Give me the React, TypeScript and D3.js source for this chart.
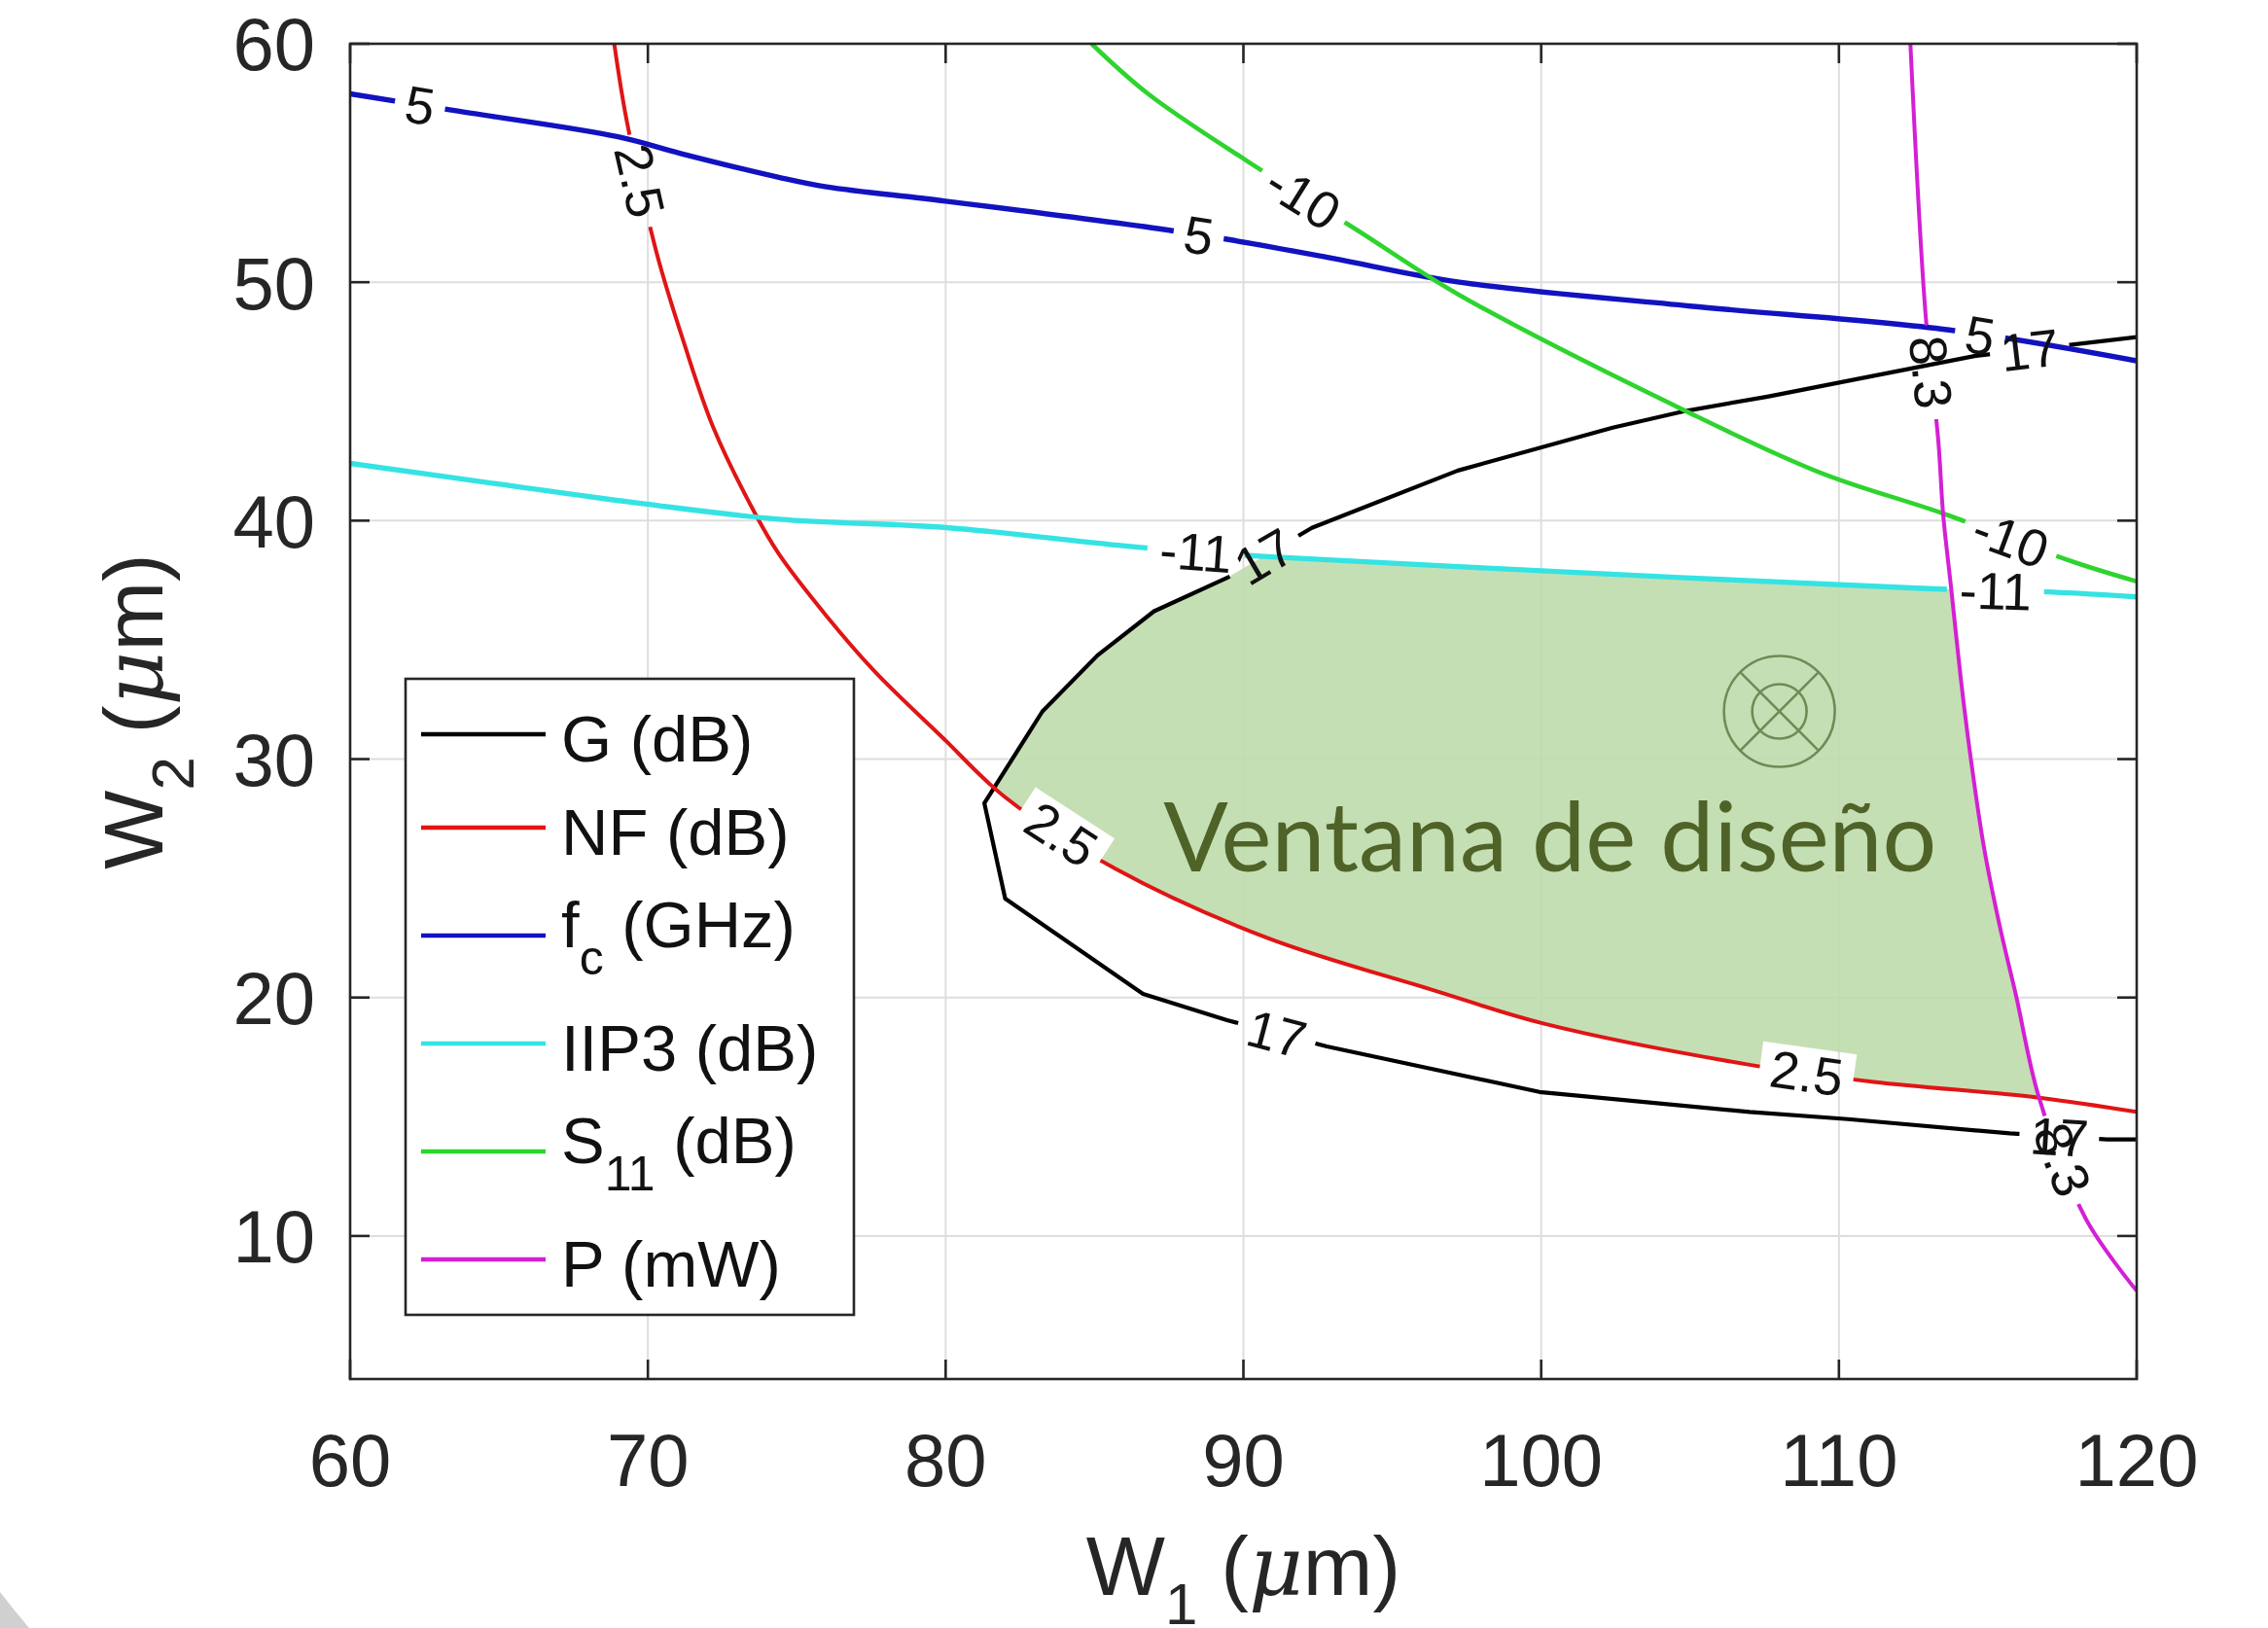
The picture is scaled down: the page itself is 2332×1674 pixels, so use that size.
import React from 'react';
import * as d3 from 'd3';

type Pt = [number, number];

const WIDTH = 2332;
const HEIGHT = 1674;

const X_DOMAIN: Pt = [60, 120];
const Y_DOMAIN: Pt = [4, 60];
const X_TICKS = [60, 70, 80, 90, 100, 110, 120];
const Y_TICKS = [10, 20, 30, 40, 50, 60];

// G = 17 dB contour (black)
const G_POINTS: Pt[] = [
  [120, 47.7], [114.55, 46.9], [110.05, 45.8], [107.6, 45.2], [104.85, 44.6], [102.4, 43.9],
  [97.2, 42.1], [92.3, 39.7], [89.45, 37.6], [87.0, 36.2], [85.1, 34.35], [83.25, 32.0],
  [81.76, 29.06], [81.3, 28.15], [82.0, 24.15], [86.63, 20.15], [89.45, 19.05], [92.8, 17.95],
  [99.94, 16.04], [107.0, 15.2], [110.3, 14.9], [115.74, 14.3], [119.0, 14.05], [120, 14.05],
];
const G_LABELS: Pt[] = [[90.7, 38.5], [91.1, 18.4], [116.4, 47.2], [117.4, 14.2]];

// NF = 2.5 dB contour (red)
const NF_POINTS: Pt[] = [
  [68.87, 60], [69.3, 56.7], [70.3, 51.2], [71.2, 47.5], [72.2, 43.9], [73.6, 40.3], [74.4, 38.6],
  [76.0, 36.0], [77.6, 33.7], [79.9, 30.9], [82.0, 28.4], [85.7, 25.4], [90.8, 22.5], [96.4, 20.3],
  [100.1, 18.9], [106.9, 17.2], [111.17, 16.46], [116.72, 15.8], [120, 15.2],
];
const NF_LABELS: Pt[] = [[69.2, 54.1], [83.7, 26.5], [108.9, 16.7]];

// fc = 5 GHz contour (blue)
const FC_POINTS: Pt[] = [
  [60, 57.9], [63.5, 57.2], [69, 56.1], [71.1, 55.4], [74.4, 54.4], [76, 54.0], [80, 53.4],
  [87.4, 52.2], [89.7, 51.75], [93, 51.0], [97.25, 50.0], [105, 49.0], [113.7, 48.0], [120, 46.7],
];
const FC_LABELS: Pt[] = [[62.33, 57.3], [88.5, 52.0], [114.7, 47.5]];

// IIP3 = -11 dB contour (cyan)
const IIP3_POINTS: Pt[] = [
  [60, 42.4], [64.9, 41.55], [69.9, 40.7], [74.4, 40.06], [80.1, 39.7], [86.35, 38.9],
  [90.7, 38.5], [97.2, 38.07], [112.8, 37.16], [117.2, 37.0], [120, 36.8],
];
const IIP3_LABELS: Pt[] = [[88.4, 38.6], [115.25, 36.8]];

// S11 = -10 dB contour (green)
const S11_POINTS: Pt[] = [
  [84.9, 60], [86.8, 57.9], [90.1, 55.1], [93.8, 52.2], [97.2, 49.5], [104.85, 44.6],
  [109.4, 42.0], [113.5, 40.3], [117.8, 38.3], [120, 37.45],
];
const S11_LABELS: Pt[] = [[91.84, 53.25], [115.7, 39.0]];

// P = 8.3 mW contour (magenta)
const P_POINTS: Pt[] = [
  [112.4, 60], [112.9, 48.8], [113.34, 43.3], [113.5, 40.26], [113.78, 37.04], [114.1, 33.3],
  [114.43, 30.0], [114.87, 26.3], [115.4, 23.0], [115.95, 20.07], [116.72, 15.8], [118.3, 10.7],
  [120, 7.7],
];
const P_LABELS: Pt[] = [[112.9, 46.2], [117.3, 13.1]];

const TARGET_POINT: Pt = [108, 32];
const WINDOW_TEXT_POS: Pt = [100.3, 25.3];
const WINDOW_TEXT = 'Ventana de diseño';

const LEGEND_ITEMS = [
  { main: 'G', sub: '', rest: ' (dB)', color: '#000000' },
  { main: 'NF (dB)', sub: '', rest: '', color: '#e01515' },
  { main: 'f', sub: 'c', rest: ' (GHz)', color: '#1212c0' },
  { main: 'IIP3 (dB)', sub: '', rest: '', color: '#35e3e3' },
  { main: 'S', sub: '11', rest: ' (dB)', color: '#2ed42e' },
  { main: 'P (mW)', sub: '', rest: '', color: '#d41fd4' },
];

const FONT = '"Liberation Sans", Arial, Helvetica, sans-serif';

const M = { left: 360, right: 2197, top: 45, bottom: 1418 };

const x = d3.scaleLinear().domain(X_DOMAIN).range([M.left, M.right]);
const y = d3.scaleLinear().domain(Y_DOMAIN).range([M.bottom, M.top]);

const SERIES = [
  { id: 'g', level: '17', pts: G_POINTS, labels: G_LABELS, color: '#000000', w: 4.2, smooth: false },
  { id: 'nf', level: '2.5', pts: NF_POINTS, labels: NF_LABELS, color: '#e01515', w: 4.0, smooth: true },
  { id: 'fc', level: '5', pts: FC_POINTS, labels: FC_LABELS, color: '#1212c0', w: 5.4, smooth: true },
  { id: 'iip3', level: '-11', pts: IIP3_POINTS, labels: IIP3_LABELS, color: '#35e3e3', w: 5.4, smooth: true },
  { id: 's11', level: '-10', pts: S11_POINTS, labels: S11_LABELS, color: '#2ed42e', w: 4.6, smooth: true },
  { id: 'p', level: '8.3', pts: P_POINTS, labels: P_LABELS, color: '#d41fd4', w: 4.0, smooth: true },
];

const LABEL_FS = 54;

function textW(s: string, fs: number) {
  let w = 0;
  for (const c of s) w += c === '.' ? 0.278 : c === '-' ? 0.333 : 0.556;
  return w * fs;
}

function lineGen(smooth: boolean) {
  return d3
    .line<Pt>()
    .x((d) => x(d[0]))
    .y((d) => y(d[1]))
    .curve(smooth ? d3.curveCatmullRom.alpha(0.5) : d3.curveLinear);
}

function placeLabel(pts: Pt[], q: Pt) {
  const sp = pts.map((p) => [x(p[0]), y(p[1])]);
  const qx = x(q[0]);
  const qy = y(q[1]);
  let best = { d: Infinity, px: qx, py: qy, a: 0 };
  for (let i = 0; i < sp.length - 1; i++) {
    const [x0, y0] = sp[i];
    const [x1, y1] = sp[i + 1];
    const dx = x1 - x0;
    const dy = y1 - y0;
    const L2 = dx * dx + dy * dy;
    let t = ((qx - x0) * dx + (qy - y0) * dy) / L2;
    t = Math.max(0, Math.min(1, t));
    const px = x0 + t * dx;
    const py = y0 + t * dy;
    const d = Math.hypot(px - qx, py - qy);
    if (d < best.d) {
      let a = (Math.atan2(dy, dx) * 180) / Math.PI;
      if (a > 90) a -= 180;
      if (a <= -90) a += 180;
      best = { d, px, py, a };
    }
  }
  return best;
}

function closedPath(pts: Pt[], extra: Pt[], smooth: boolean) {
  const base = lineGen(smooth)(pts) || '';
  return base + extra.map((p) => `L${x(p[0])},${y(p[1])}`).join('') + 'Z';
}

export default function App() {
  const placed = SERIES.map((s) => ({
    ...s,
    lab: s.labels.map((q) => placeLabel(s.pts, q)),
  }));

  const nf = placed.find((s) => s.id === 'nf')!;

  const tx = x(TARGET_POINT[0]);
  const ty = y(TARGET_POINT[1]);
  const rOut = 57;
  const rIn = 28;
  const dq = rOut * Math.SQRT1_2;

  const legendTop = 698;
  const legendLeft = 417;
  const legendRight = 878;
  const rowH = (it: { sub: string }) => (it.sub ? 126 : 96);
  let acc = legendTop + 9;
  const rows = LEGEND_ITEMS.map((it) => {
    const c = acc + rowH(it) / 2;
    acc += rowH(it);
    return { ...it, cy: c };
  });
  const legendBottom = acc + 9;

  return (
    <svg
      width={WIDTH}
      height={HEIGHT}
      viewBox={`0 0 ${WIDTH} ${HEIGHT}`}
      style={{ position: 'absolute', left: 0, top: 0, background: '#ffffff' }}
    >
      <defs>
        <clipPath id="plotClip">
          <rect x={M.left} y={M.top} width={M.right - M.left} height={M.bottom - M.top} />
        </clipPath>
        <clipPath id="belowCyan">
          <path d={closedPath(IIP3_POINTS, [[120, 4], [60, 4]], true)} />
        </clipPath>
        <clipPath id="aboveRed">
          <path d={closedPath(NF_POINTS, [[120, 60]], true)} />
        </clipPath>
        <clipPath id="leftMag">
          <path d={closedPath(P_POINTS, [[120, 4], [60, 4], [60, 60]], true)} />
        </clipPath>
        <clipPath id="inBlack">
          <path d={closedPath(G_POINTS, [], false)} />
        </clipPath>
        {placed.map((s) => (
          <mask key={s.id} id={`mask-${s.id}`} maskUnits="userSpaceOnUse" x={0} y={0} width={WIDTH} height={HEIGHT}>
            <rect x={0} y={0} width={WIDTH} height={HEIGHT} fill="white" />
            {s.lab.map((l, i) => {
              const w = textW(s.level, LABEL_FS) + 22;
              const h = LABEL_FS * 0.95;
              return (
                <rect
                  key={i}
                  x={-w / 2}
                  y={-h / 2}
                  width={w}
                  height={h}
                  fill="black"
                  transform={`translate(${l.px},${l.py}) rotate(${l.a})`}
                />
              );
            })}
          </mask>
        ))}
      </defs>

      {/* decorative gray corner */}
      <path d="M0,1637 A1165,1165 0 0 0 30,1674 L0,1674 Z" fill="#d0d0d0" />

      {/* grid */}
      <g stroke="#dedede" strokeWidth={2}>
        {X_TICKS.slice(1, -1).map((t) => (
          <line key={`gx${t}`} x1={x(t)} x2={x(t)} y1={M.top} y2={M.bottom} />
        ))}
        {Y_TICKS.slice(0, -1).map((t) => (
          <line key={`gy${t}`} x1={M.left} x2={M.right} y1={y(t)} y2={y(t)} />
        ))}
      </g>

      {/* design window fill */}
      <g clipPath="url(#plotClip)">
        <g clipPath="url(#belowCyan)">
          <g clipPath="url(#aboveRed)">
            <g clipPath="url(#leftMag)">
              <g clipPath="url(#inBlack)">
                <rect
                  x={M.left}
                  y={M.top}
                  width={M.right - M.left}
                  height={M.bottom - M.top}
                  fill="#bfdcac"
                  fillOpacity={0.9}
                  mask={`url(#mask-${nf.id})`}
                />
              </g>
            </g>
          </g>
        </g>
      </g>

      {/* target symbol */}
      <g stroke="#65834c" strokeWidth={2.6} fill="none" opacity={0.9}>
        <circle cx={tx} cy={ty} r={rOut} />
        <circle cx={tx} cy={ty} r={rIn} />
        <line x1={tx - dq} y1={ty - dq} x2={tx + dq} y2={ty + dq} />
        <line x1={tx - dq} y1={ty + dq} x2={tx + dq} y2={ty - dq} />
      </g>

      <text
        x={x(WINDOW_TEXT_POS[0])}
        y={y(WINDOW_TEXT_POS[1])}
        textAnchor="middle"
        fontFamily='Lato, "Open Sans", sans-serif'
        fontSize={98}
        fill="#4f6228"
        textLength={795}
        lengthAdjust="spacingAndGlyphs"
      >
        {WINDOW_TEXT}
      </text>

      {/* contour lines */}
      <g clipPath="url(#plotClip)">
        {placed.map((s) => (
          <path
            key={s.id}
            d={lineGen(s.smooth)(s.pts) || ''}
            fill="none"
            stroke={s.color}
            strokeWidth={s.w}
            strokeLinejoin="round"
            mask={`url(#mask-${s.id})`}
          />
        ))}
      </g>

      {/* contour labels */}
      <g fontFamily={FONT} fontSize={LABEL_FS} fill="#111111" textAnchor="middle">
        {placed.map((s) =>
          s.lab.map((l, i) => (
            <text key={`${s.id}${i}`} transform={`translate(${l.px},${l.py}) rotate(${l.a})`} dy="0.36em">
              {s.level}
            </text>
          ))
        )}
      </g>

      {/* axes box & ticks */}
      <g stroke="#262626" strokeWidth={2.6} fill="none">
        <rect x={M.left} y={M.top} width={M.right - M.left} height={M.bottom - M.top} />
        {X_TICKS.map((t) => (
          <g key={`tx${t}`}>
            <line x1={x(t)} x2={x(t)} y1={M.bottom} y2={M.bottom - 20} />
            <line x1={x(t)} x2={x(t)} y1={M.top} y2={M.top + 20} />
          </g>
        ))}
        {Y_TICKS.map((t) => (
          <g key={`ty${t}`}>
            <line x1={M.left} x2={M.left + 20} y1={y(t)} y2={y(t)} />
            <line x1={M.right} x2={M.right - 20} y1={y(t)} y2={y(t)} />
          </g>
        ))}
      </g>

      {/* tick labels */}
      <g fontFamily={FONT} fontSize={76} fill="#262626">
        {X_TICKS.map((t) => (
          <text key={`lx${t}`} x={x(t)} y={1528} textAnchor="middle">
            {t}
          </text>
        ))}
        {Y_TICKS.map((t) => (
          <text key={`ly${t}`} x={M.left - 36} y={y(t)} dy="0.36em" textAnchor="end">
            {t}
          </text>
        ))}
      </g>

      {/* axis labels */}
      <text x={(M.left + M.right) / 2} y={1640} textAnchor="middle" fontFamily={FONT} fontSize={86} fill="#262626">
        W<tspan fontSize={60} dy={30}>1</tspan>
        <tspan dy={-30}> (</tspan>
        <tspan fontStyle="italic" fontFamily='"DejaVu Serif", "Liberation Serif", serif'>μ</tspan>
        <tspan>m)</tspan>
      </text>
      <text
        transform={`translate(167,${(M.top + M.bottom) / 2}) rotate(-90)`}
        textAnchor="middle"
        fontFamily={FONT}
        fontSize={86}
        fill="#262626"
      >
        W<tspan fontSize={62} dy={32}>2</tspan>
        <tspan dy={-32}> (</tspan>
        <tspan fontStyle="italic" fontFamily='"DejaVu Serif", "Liberation Serif", serif'>μ</tspan>
        <tspan>m)</tspan>
      </text>

      {/* legend */}
      <g>
        <rect
          x={legendLeft}
          y={legendTop}
          width={legendRight - legendLeft}
          height={legendBottom - legendTop}
          fill="#ffffff"
          stroke="#262626"
          strokeWidth={2.6}
        />
        {rows.map((r, i) => (
          <g key={i}>
            <line x1={433} x2={561} y1={r.cy} y2={r.cy} stroke={r.color} strokeWidth={4.5} />
            <text x={577} y={r.cy + (r.sub ? 12 : 28)} fontFamily={FONT} fontSize={67} fill="#111111">
              {r.main}
              {r.sub ? (
                <>
                  <tspan fontSize={50} dy={28}>
                    {r.sub}
                  </tspan>
                  <tspan dy={-28}>{r.rest}</tspan>
                </>
              ) : (
                r.rest
              )}
            </text>
          </g>
        ))}
      </g>
    </svg>
  );
}
